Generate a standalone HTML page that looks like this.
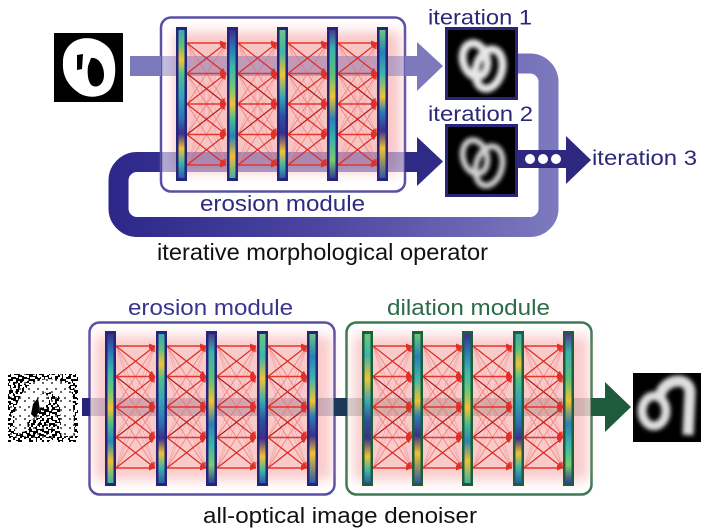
<!DOCTYPE html>
<html><head><meta charset="utf-8"><style>
html,body{margin:0;padding:0;background:#fff;}
svg{display:block;}
text{font-family:"Liberation Sans",Arial,sans-serif;}
</style></head><body>
<svg width="720" height="531" viewBox="0 0 720 531" xmlns="http://www.w3.org/2000/svg">
<defs>
  <filter id="blur6" x="-20%" y="-20%" width="140%" height="140%"><feGaussianBlur stdDeviation="6"/></filter>
  <filter id="blur2" x="-30%" y="-30%" width="160%" height="160%"><feGaussianBlur stdDeviation="2"/></filter>
  <filter id="blur1" x="-30%" y="-30%" width="160%" height="160%"><feGaussianBlur stdDeviation="1.2"/></filter>
  <marker id="ah" markerUnits="userSpaceOnUse" markerWidth="6" markerHeight="5" viewBox="0 0 6 5" refX="6" refY="2.5" orient="auto"><path d="M0,0 L6,2.5 L0,5 z" fill="#e0302a"/></marker>
  <linearGradient id="loopg" gradientUnits="userSpaceOnUse" x1="109" y1="0" x2="559" y2="0">
    <stop offset="0" stop-color="#2c2789"/><stop offset="0.5" stop-color="#4e48a2"/><stop offset="1" stop-color="#7e7abe"/>
  </linearGradient>
  <linearGradient id="g1" x1="0" y1="0" x2="0" y2="1">
    <stop offset="0" stop-color="#3aa9b5"/><stop offset=".1" stop-color="#5cc07a"/><stop offset=".2" stop-color="#f0c338"/><stop offset=".3" stop-color="#4fbf8a"/><stop offset=".45" stop-color="#36a3b8"/><stop offset=".6" stop-color="#2e6fb0"/><stop offset=".7" stop-color="#3b2f8f"/><stop offset=".8" stop-color="#f2c230"/><stop offset=".9" stop-color="#3bb3a8"/><stop offset="1" stop-color="#2c5aa8"/>
  </linearGradient>
  <linearGradient id="g2" x1="0" y1="0" x2="0" y2="1">
    <stop offset="0" stop-color="#3b2f8f"/><stop offset=".12" stop-color="#2a78b8"/><stop offset=".25" stop-color="#3cb7aa"/><stop offset=".38" stop-color="#6ac87a"/><stop offset=".5" stop-color="#f2c230"/><stop offset=".6" stop-color="#4dbd8a"/><stop offset=".72" stop-color="#2a85b8"/><stop offset=".85" stop-color="#f0c036"/><stop offset="1" stop-color="#3bb3a0"/>
  </linearGradient>
  <linearGradient id="g3" x1="0" y1="0" x2="0" y2="1">
    <stop offset="0" stop-color="#6ac87a"/><stop offset=".15" stop-color="#3fb5a8"/><stop offset=".3" stop-color="#f2c230"/><stop offset=".45" stop-color="#3aa9b5"/><stop offset=".58" stop-color="#2e4fa0"/><stop offset=".7" stop-color="#3b2f8f"/><stop offset=".82" stop-color="#f2c230"/><stop offset=".92" stop-color="#3bb3a8"/><stop offset="1" stop-color="#2c5aa8"/>
  </linearGradient>
  <linearGradient id="g4" x1="0" y1="0" x2="0" y2="1">
    <stop offset="0" stop-color="#4a3a90"/><stop offset=".12" stop-color="#3bb0ad"/><stop offset=".3" stop-color="#5cc07a"/><stop offset=".45" stop-color="#f2c230"/><stop offset=".6" stop-color="#2a80b8"/><stop offset=".75" stop-color="#3cb7aa"/><stop offset=".88" stop-color="#7acb6a"/><stop offset="1" stop-color="#2f3f98"/>
  </linearGradient>
  <linearGradient id="g5" x1="0" y1="0" x2="0" y2="1">
    <stop offset="0" stop-color="#6ac87a"/><stop offset=".15" stop-color="#2a7fb8"/><stop offset=".3" stop-color="#3cb7aa"/><stop offset=".45" stop-color="#f2c230"/><stop offset=".55" stop-color="#2a7fb8"/><stop offset=".68" stop-color="#3b2f8f"/><stop offset=".8" stop-color="#f2c230"/><stop offset="1" stop-color="#2a5aa8"/>
  </linearGradient>
  <pattern id="noiseA" width="11" height="11" patternUnits="userSpaceOnUse">
    <rect x="0" y="0" width="3" height="2" fill="#fff"/><rect x="5" y="1" width="2" height="3" fill="#fff"/><rect x="8" y="3" width="3" height="2" fill="#fff"/><rect x="2" y="5" width="3" height="3" fill="#fff"/><rect x="7" y="7" width="2" height="2" fill="#fff"/><rect x="0" y="8" width="2" height="3" fill="#fff"/><rect x="4" y="9" width="3" height="2" fill="#fff"/><rect x="9" y="9" width="2" height="2" fill="#fff"/>
  </pattern>
  <pattern id="noiseB" width="13" height="13" patternUnits="userSpaceOnUse">
    <rect x="1" y="2" width="2" height="2" fill="#fff"/><rect x="6" y="0" width="3" height="2" fill="#fff"/><rect x="10" y="4" width="3" height="3" fill="#fff"/><rect x="3" y="7" width="2" height="2" fill="#fff"/><rect x="7" y="9" width="3" height="2" fill="#fff"/><rect x="0" y="11" width="3" height="2" fill="#fff"/><rect x="11" y="10" width="2" height="3" fill="#fff"/><rect x="5" y="4" width="2" height="2" fill="#fff"/>
  </pattern>
  <pattern id="noiseC" width="9" height="9" patternUnits="userSpaceOnUse">
    <rect x="1" y="1" width="2" height="2" fill="#000"/><rect x="6" y="4" width="2" height="2" fill="#000"/>
  </pattern>
  <g id="net" fill="none">
    <g stroke="#f28a8a" stroke-width="0.8" opacity="0.55" marker-end="url(#ah)">
      <line x1="0" y1="0" x2="39" y2="122"/><line x1="0" y1="122" x2="39" y2="0"/>
      <line x1="0" y1="0" x2="39" y2="91.5"/><line x1="0" y1="30.5" x2="39" y2="122"/>
      <line x1="0" y1="91.5" x2="39" y2="0"/><line x1="0" y1="122" x2="39" y2="30.5"/>
    </g>
    <g stroke="#ee6a66" stroke-width="0.9" opacity="0.7" marker-end="url(#ah)">
      <line x1="0" y1="0" x2="39" y2="61"/><line x1="0" y1="30.5" x2="39" y2="91.5"/><line x1="0" y1="61" x2="39" y2="122"/>
      <line x1="0" y1="61" x2="39" y2="0"/><line x1="0" y1="91.5" x2="39" y2="30.5"/><line x1="0" y1="122" x2="39" y2="61"/>
    </g>
    <g stroke="#dc2a22" stroke-width="1.2" marker-end="url(#ah)">
      <line x1="0" y1="0" x2="39" y2="30.5"/><line x1="0" y1="30.5" x2="39" y2="61" stroke="#a81a1a"/><line x1="0" y1="61" x2="39" y2="91.5"/><line x1="0" y1="91.5" x2="39" y2="122"/>
      <line x1="0" y1="30.5" x2="39" y2="0"/><line x1="0" y1="61" x2="39" y2="30.5"/><line x1="0" y1="91.5" x2="39" y2="61" stroke="#b01c1c"/><line x1="0" y1="122" x2="39" y2="91.5"/>
    </g>
    <g stroke="#e8352b" stroke-width="1.4" marker-end="url(#ah)">
      <line x1="0" y1="0" x2="39" y2="0"/><line x1="0" y1="30.5" x2="39" y2="30.5"/><line x1="0" y1="61" x2="39" y2="61"/><line x1="0" y1="91.5" x2="39" y2="91.5"/><line x1="0" y1="122" x2="39" y2="122"/>
    </g>
  </g>
</defs>

<!-- ================= TOP ================= -->
<path d="M517,63.5 H530 A18.5,18.5 0 0 1 548.5,82 V208.5 A18.5,18.5 0 0 1 530,227 H137 A18.5,18.5 0 0 1 118.5,208.5 V180.5 A18.5,18.5 0 0 1 137,162 H162" fill="none" stroke="url(#loopg)" stroke-width="20"/>

<rect x="161" y="17.5" width="244" height="174" rx="10" fill="#fff" stroke="#5a50a3" stroke-width="2.5"/>
<rect x="174" y="32" width="226" height="140" fill="#f5a0a0" opacity="0.6" filter="url(#blur6)"/>

<rect x="130" y="56" width="31" height="20" fill="#7b78bb"/>
<rect x="161" y="56" width="244" height="20" fill="#6a63b3" opacity="0.42"/>
<rect x="405" y="56" width="13" height="20" fill="#7d79bc"/>
<polygon points="417,42 443,66 417,91" fill="#7d79bc"/>
<rect x="161" y="152" width="244" height="20" fill="#3c3495" opacity="0.42"/>
<rect x="405" y="152" width="13" height="20" fill="#2f2a85"/>
<polygon points="417,137 443,161.5 417,186" fill="#2f2a85"/>

<use href="#net" x="187" y="43"/>
<use href="#net" x="238" y="43"/>
<use href="#net" x="288" y="43"/>
<use href="#net" x="338" y="43"/>

<g>
  <rect x="176" y="27" width="11" height="154" fill="#25247a"/><rect x="178.5" y="30" width="6" height="148" fill="url(#g1)"/>
  <rect x="227" y="27" width="11" height="154" fill="#25247a"/><rect x="229.5" y="30" width="6" height="148" fill="url(#g2)"/>
  <rect x="277" y="27" width="11" height="154" fill="#25247a"/><rect x="279.5" y="30" width="6" height="148" fill="url(#g3)"/>
  <rect x="327" y="27" width="11" height="154" fill="#25247a"/><rect x="329.5" y="30" width="6" height="148" fill="url(#g4)"/>
  <rect x="377" y="27" width="11" height="154" fill="#25247a"/><rect x="379.5" y="30" width="6" height="148" fill="url(#g5)"/>
</g>

<!-- input digit -->
<rect x="54" y="33" width="69" height="69" fill="#000"/>
<path d="M75,41 C86,35 101,39 109,48 C117,58 117,78 111,88 C104,98 88,99 79,93 C69,86 62,77 63,62 C63,52 68,45 75,41 Z" fill="#fff"/>
<path d="M91,58 C99,57 104,66 104,75 C104,84 98,88 93,86 C88,84 87,74 88,66 Z" fill="#000"/>
<path d="M77,55 L83,54 L82,69 L77,70 Z" fill="#000"/>

<!-- iteration images -->
<rect x="446.5" y="28.5" width="70" height="70" fill="#000" stroke="#29267a" stroke-width="3"/>
<g filter="url(#blur2)" fill="none" stroke="#e6e6e6" stroke-width="8">
  <ellipse cx="475" cy="60" rx="12" ry="17" transform="rotate(-15 475 60)"/>
  <ellipse cx="489" cy="69" rx="13" ry="20" transform="rotate(15 489 69)"/>
</g>
<rect x="446.5" y="125.5" width="70" height="70" fill="#000" stroke="#29267a" stroke-width="3"/>
<g filter="url(#blur2)" fill="none" stroke="#cfcfcf" stroke-width="6">
  <ellipse cx="475" cy="157" rx="12" ry="17" transform="rotate(-15 475 157)"/>
  <ellipse cx="489" cy="166" rx="13" ry="20" transform="rotate(15 489 166)"/>
</g>

<rect x="517" y="150" width="50" height="18" fill="#2e2880"/>
<polygon points="566,136 591,160 566,184" fill="#2e2880"/>
<circle cx="530" cy="159" r="5" fill="#fff"/>
<circle cx="543" cy="159" r="5" fill="#fff"/>
<circle cx="556" cy="159" r="5" fill="#fff"/>

<text x="428" y="24.5" font-size="21.5" fill="#2c2878" textLength="104" lengthAdjust="spacingAndGlyphs">iteration 1</text>
<text x="428" y="121" font-size="21.5" fill="#2c2878" textLength="105" lengthAdjust="spacingAndGlyphs">iteration 2</text>
<text x="592" y="165" font-size="21.5" fill="#2c2878" textLength="105" lengthAdjust="spacingAndGlyphs">iteration 3</text>
<text x="200" y="211" font-size="22" fill="#2e2a80" textLength="165" lengthAdjust="spacingAndGlyphs">erosion module</text>
<text x="157" y="260" font-size="23" fill="#111" textLength="331" lengthAdjust="spacingAndGlyphs">iterative morphological operator</text>

<!-- ================= BOTTOM ================= -->
<text x="128" y="315" font-size="22" fill="#3a348f" textLength="165" lengthAdjust="spacingAndGlyphs">erosion module</text>
<text x="387" y="315" font-size="22" fill="#2a6b48" textLength="163" lengthAdjust="spacingAndGlyphs">dilation module</text>

<rect x="89.5" y="322.5" width="245" height="172" rx="10" fill="#fff" stroke="#5a50a3" stroke-width="2.5"/>
<rect x="346.5" y="322.5" width="245" height="172" rx="10" fill="#fff" stroke="#3a7a55" stroke-width="2.5"/>
<rect x="95" y="336" width="236" height="144" fill="#f5a0a0" opacity="0.55" filter="url(#blur6)"/>
<rect x="354" y="336" width="234" height="144" fill="#f5a0a0" opacity="0.55" filter="url(#blur6)"/>

<rect x="82" y="398" width="8" height="18" fill="#25247a"/>
<rect x="90" y="398" width="245" height="18" fill="#6a5a80" opacity="0.3"/>
<rect x="334" y="398" width="13" height="18" fill="#1e3858"/>
<rect x="347" y="398" width="245" height="18" fill="#6a6a60" opacity="0.28"/>
<rect x="591" y="398" width="16" height="18" fill="#1f5a3c"/>
<polygon points="605,382 631,407 605,432" fill="#1f5a3c"/>

<use href="#net" x="116" y="346"/>
<use href="#net" x="167" y="346"/>
<use href="#net" x="217" y="346"/>
<use href="#net" x="268" y="346"/>
<use href="#net" x="373" y="346"/>
<use href="#net" x="423" y="346"/>
<use href="#net" x="473" y="346"/>
<use href="#net" x="524" y="346"/>

<g>
  <rect x="105" y="331" width="11" height="155" fill="#25247a"/><rect x="107.5" y="334" width="6" height="149" fill="url(#g2)"/>
  <rect x="156" y="331" width="11" height="155" fill="#25247a"/><rect x="158.5" y="334" width="6" height="149" fill="url(#g1)"/>
  <rect x="206" y="331" width="11" height="155" fill="#25247a"/><rect x="208.5" y="334" width="6" height="149" fill="url(#g4)"/>
  <rect x="257" y="331" width="11" height="155" fill="#25247a"/><rect x="259.5" y="334" width="6" height="149" fill="url(#g3)"/>
  <rect x="307" y="331" width="11" height="155" fill="#25247a"/><rect x="309.5" y="334" width="6" height="149" fill="url(#g5)"/>
</g>
<g>
  <rect x="362" y="331" width="11" height="155" fill="#1f5d3a"/><rect x="364.5" y="334" width="6" height="149" fill="url(#g3)"/>
  <rect x="412" y="331" width="11" height="155" fill="#1f5d3a"/><rect x="414.5" y="334" width="6" height="149" fill="url(#g5)"/>
  <rect x="462" y="331" width="11" height="155" fill="#1f5d3a"/><rect x="464.5" y="334" width="6" height="149" fill="url(#g2)"/>
  <rect x="513" y="331" width="11" height="155" fill="#1f5d3a"/><rect x="515.5" y="334" width="6" height="149" fill="url(#g1)"/>
  <rect x="563" y="331" width="11" height="155" fill="#1f5d3a"/><rect x="565.5" y="334" width="6" height="149" fill="url(#g4)"/>
</g>

<!-- noisy input -->
<rect x="8" y="374" width="70" height="68" fill="#000"/>
<rect x="8" y="374" width="70" height="68" fill="url(#noiseA)"/>
<rect x="8" y="374" width="70" height="68" fill="url(#noiseB)"/>
<path d="M22,432 C18,415 24,395 38,388 C50,383 62,386 66,396 L68,436 M30,420 C28,405 38,398 46,402" fill="none" stroke="#fff" stroke-width="13"/>
<rect x="8" y="374" width="70" height="68" fill="url(#noiseC)" opacity="0.6"/>
<path d="M33,404 L38,398 L40,410 L35,418 L31,414 Z" fill="#000"/>

<!-- output -->
<rect x="633" y="373" width="68" height="69" fill="#000"/>
<g filter="url(#blur2)" fill="none" stroke="#dedede">
  <ellipse cx="654" cy="411" rx="12" ry="15" stroke-width="9"/>
  <path d="M660,396 C663,379 689,375 690,392 L688,435" stroke-width="11"/>
</g>

<text x="203" y="523" font-size="22" fill="#111" textLength="274" lengthAdjust="spacingAndGlyphs">all-optical image denoiser</text>
</svg>
</body></html>
